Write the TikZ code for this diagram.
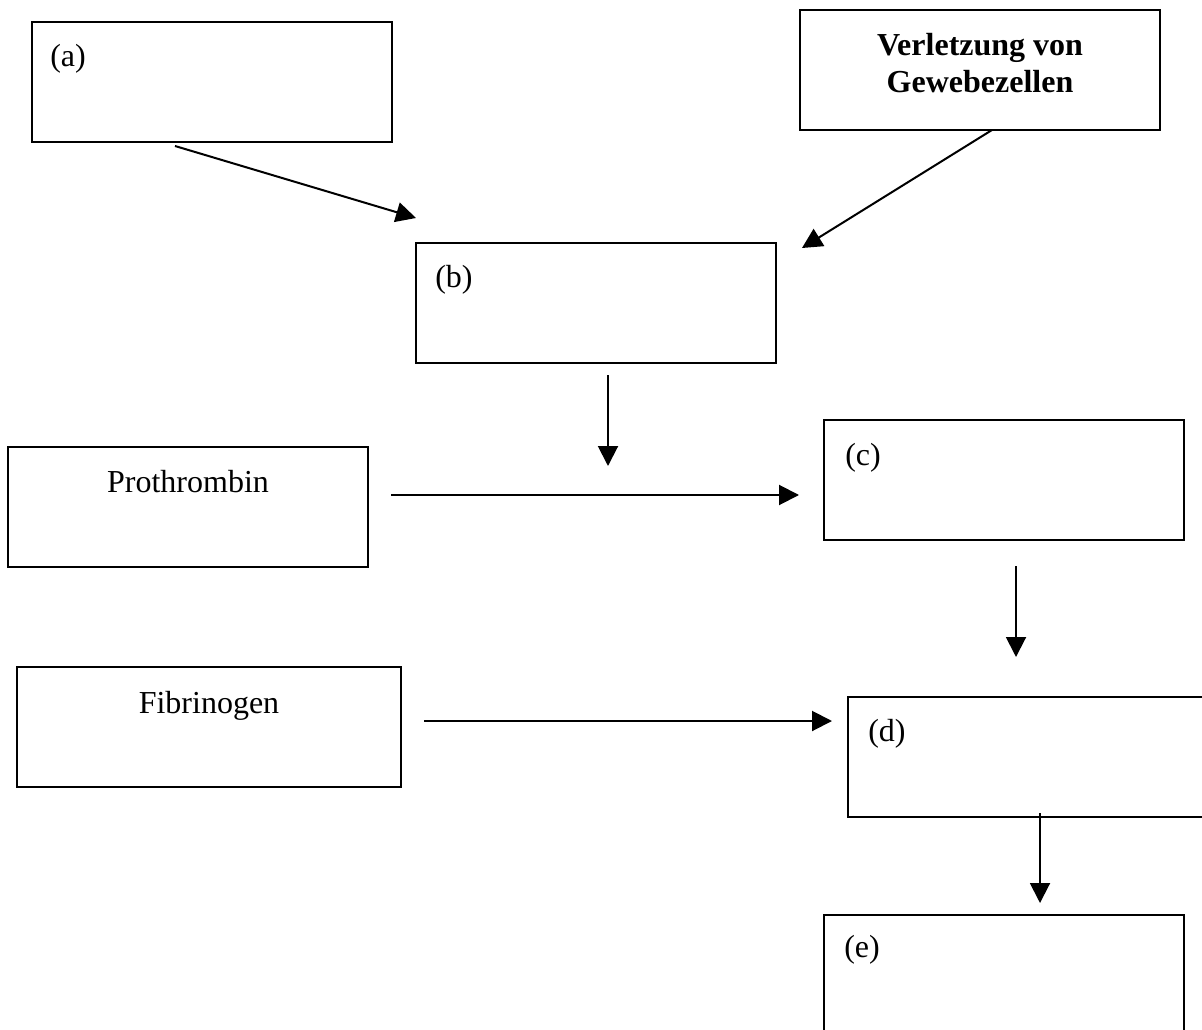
\documentclass[tikz,border=0pt]{standalone}
\usepackage{fontspec}
\setmainfont{Liberation Serif}
\usetikzlibrary{arrows.meta}
\begin{document}
\begin{tikzpicture}[x=0.75pt,y=-0.75pt,
 box/.style={rectangle,draw,line width=1.5pt,minimum width=270pt,
             minimum height=90pt,inner sep=0pt},
 lbl/.style={anchor=base west,inner sep=0pt,font=\fontsize{24}{27.75}\selectfont},
 arrow/.style={-{Triangle[length=15pt,width=15pt]},line width=1.5pt}]
\useasboundingbox (0,0) rectangle (1202,1030);
\clip (0,0) rectangle (1202,1030);
\node[box] (a) at (212,82.5) {};
\node[box] (verl) at (979.5,70) {};
\node[box] (b) at (596,303) {};
\node[box] (proth) at (187.5,506.5) {};
\node[box] (c) at (1003.5,480) {};
\node[box,minimum width=288pt] (fib) at (209,727) {};
\node[box] (d) at (1028,757) {};
\node[box] (e) at (1003.5,975) {};
\node[lbl] (atext) at (50,67) {(a)};
\node[lbl] (btext) at (435,288) {(b)};
\node[lbl] (ctext) at (845,465) {(c)};
\node[lbl] (dtext) at (868,741) {(d)};
\node[lbl] (etext) at (844,957) {(e)};
\node[lbl,anchor=base] (prtext) at (188,492) {Prothrombin};
\node[lbl,anchor=base] (fitext) at (209,713) {Fibrinogen};
\node[lbl,anchor=base,align=center,font=\fontsize{24}{27.75}\selectfont\bfseries]
  (vtext) at (980,93) {Verletzung von\\Gewebezellen};
% free ends of the arrows
\coordinate (a-out) at (175,146); \coordinate (b-in1) at (416,218);
\coordinate (verl-out) at (992,130); \coordinate (b-in2) at (802,248);
\coordinate (b-out) at (608,375); \coordinate (b-tip) at (608,466);
\coordinate (proth-out) at (391,495); \coordinate (c-in) at (799,495);
\coordinate (c-out) at (1016,566); \coordinate (c-tip) at (1016,657);
\coordinate (fib-out) at (424,721); \coordinate (d-in) at (832,721);
\coordinate (d-out) at (1040,813); \coordinate (e-in) at (1040,903);
\draw[arrow] (a-out)--(b-in1); \draw[arrow] (verl-out)--(b-in2);
\draw[arrow] (b-out)--(b-tip); \draw[arrow] (proth-out)--(c-in);
\draw[arrow] (c-out)--(c-tip); \draw[arrow] (fib-out)--(d-in);
\draw[arrow] (d-out)--(e-in);
\end{tikzpicture}
\end{document}
